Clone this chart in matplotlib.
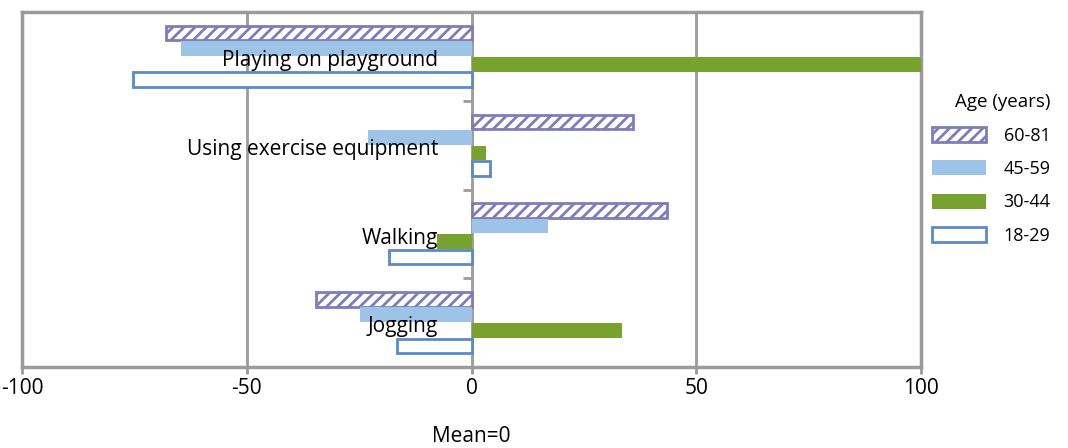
import numpy as np
import matplotlib.pyplot as plt
from matplotlib.patches import Patch

plt.rcParams["font.family"] = ["Open Sans", "DejaVu Sans"]
plt.rcParams["hatch.linewidth"] = 2.0

# activities, top to bottom
activities = [
    "Playing on playground",
    "Using exercise equipment",
    "Walking",
    "Jogging",
]

age_groups = ["60-81", "45-59", "30-44", "18-29"]

# deviation from the mean (mean = 0), one list per age group
age_60_81 = [-68, 36, 43.4, -34.7]
age_45_59 = [-64.7, -23, 17, -24.8]
age_30_44 = [100, 3.3, -7.6, 33.5]
age_18_29 = [-75.4, 4.1, -18.3, -16.6]

x_ticks = [-100, -50, 0, 50, 100]

GREY = "#9b9b9b"
PURPLE = "#7f7db8"
LIGHT_BLUE = "#9dc3e6"
GREEN = "#78a22f"
BLUE = "#5b8ac9"

styles = [
    dict(facecolor="white", edgecolor=PURPLE, hatch="///", linewidth=2),
    dict(facecolor=LIGHT_BLUE, edgecolor="none", linewidth=0),
    dict(facecolor=GREEN, edgecolor="none", linewidth=0),
    dict(facecolor="white", edgecolor=BLUE, linewidth=2),
]

series = [age_60_81, age_45_59, age_30_44, age_18_29]

fig = plt.figure(figsize=(10.68, 4.48), dpi=100)
ax = fig.add_axes([0.0206, 0.181, 0.8418, 0.792])

y = np.arange(len(activities))
step = 0.175
height = 0.165

for k, (values, style) in enumerate(zip(series, styles)):
    offset = (k - 1.5) * step
    ax.barh(y + offset, values, height=height, label=age_groups[k],
            zorder=3, **style)

ax.set_xlim(-100, 100)
ax.set_ylim(len(activities) - 0.5, -0.5)

# vertical grid lines
for xv in x_ticks[1:-1]:
    ax.axvline(xv, color=GREY, linewidth=2, zorder=1)

for side in ["left", "right", "top", "bottom"]:
    ax.spines[side].set_color(GREY)
    ax.spines[side].set_linewidth(2.5)

ax.set_xticks(x_ticks)
ax.set_xticklabels([str(v) for v in x_ticks], fontsize=15)
ax.tick_params(axis="x", length=5, width=2, color=GREY, pad=3)

# small separators on the zero line between activities
boundaries = np.arange(len(activities) + 1) - 0.5
ax.set_yticks([])
ax.hlines(boundaries[1:-1], -1.8, 0, color=GREY, linewidth=2, zorder=2)

for i, name in enumerate(activities):
    ax.annotate(name, xy=(0, i), xytext=(-24, -3),
                textcoords="offset points", ha="right", va="center",
                fontsize=15, zorder=5)

ax.text(0, -0.195, "Mean=0", transform=ax.get_xaxis_transform(),
        ha="center", va="center", fontsize=15)

handles = [Patch(**s) for s in styles]
leg = fig.legend(
    handles,
    age_groups,
    title="Age (years)",
    loc="upper left",
    bbox_to_anchor=(0.857, 0.828),
    frameon=False,
    fontsize=13,
    title_fontsize=13.5,
    handlelength=3.0,
    handleheight=0.9,
    handletextpad=1.0,
    labelspacing=0.85,
)
leg._legend_box.align = "right"

fig.savefig("out.png", dpi=100)
